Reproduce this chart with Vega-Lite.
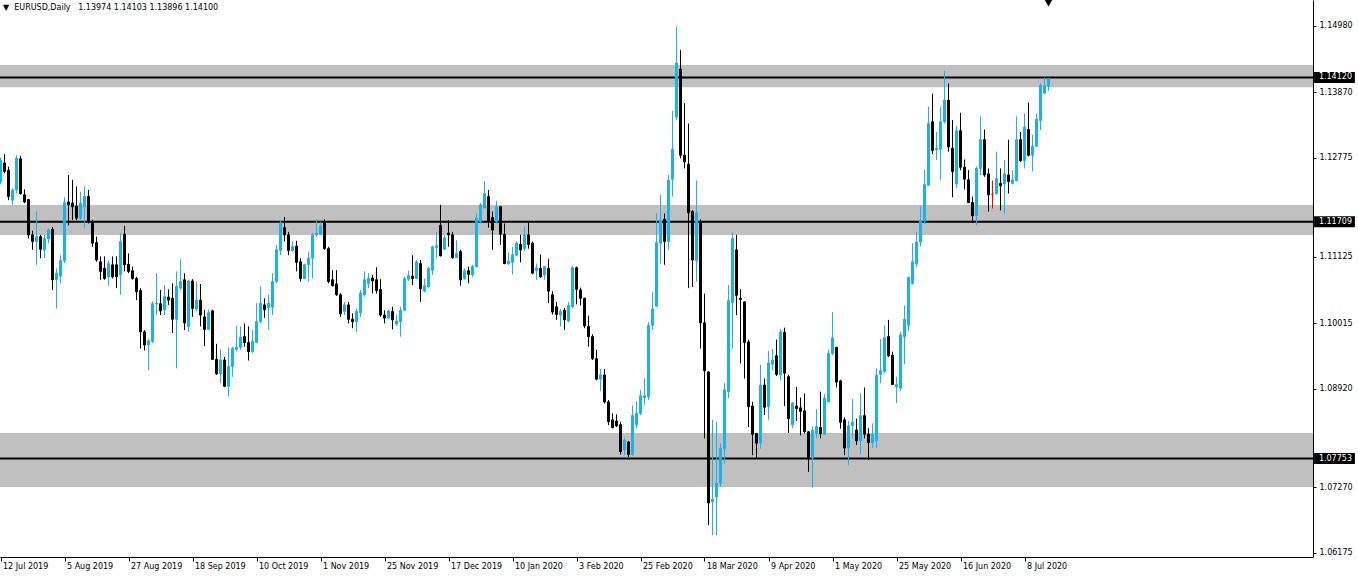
{
  "$schema": "https://vega.github.io/schema/vega-lite/v6.json",
  "width": 1313,
  "height": 557,
  "autosize": "none",
  "padding": {"left": 0, "top": 0, "right": 45, "bottom": 21},
  "background": "white",
  "config": {"view": {"stroke": null}, "font": "DejaVu Sans", "scale": {"continuousPadding": 0}},
  "datasets": {
    "header": [
      {"i": 0.625, "p": 1.1528, "txt": "▼\u00a0 EURUSD,Daily\u00a0\u00a0 1.13974 1.14103 1.13896 1.14100"}
    ],
    "zones": [
      {"lo": 1.13955, "hi": 1.14328, "lvl": 1.1412, "lab": "1.14120"},
      {"lo": 1.11487, "hi": 1.11989, "lvl": 1.11709, "lab": "1.11709"},
      {"lo": 1.07277, "hi": 1.08179, "lvl": 1.07753, "lab": "1.07753"}
    ],
    "candles": [
      {"i":0,"o":1.1238,"h":1.1278,"l":1.1234,"c":1.1273},
      {"i":1,"o":1.1269,"h":1.1284,"l":1.1252,"c":1.1255},
      {"i":2,"o":1.1257,"h":1.1263,"l":1.1207,"c":1.1213},
      {"i":3,"o":1.1207,"h":1.1227,"l":1.1199,"c":1.1224},
      {"i":4,"o":1.1224,"h":1.1282,"l":1.1218,"c":1.1277},
      {"i":5,"o":1.1276,"h":1.1281,"l":1.1216,"c":1.1218},
      {"i":6,"o":1.1216,"h":1.1225,"l":1.1202,"c":1.1204},
      {"i":7,"o":1.1208,"h":1.1209,"l":1.1143,"c":1.1149},
      {"i":8,"o":1.1149,"h":1.1156,"l":1.1124,"c":1.1138},
      {"i":9,"o":1.1138,"h":1.1188,"l":1.1099,"c":1.1146},
      {"i":10,"o":1.1146,"h":1.1149,"l":1.1110,"c":1.1125},
      {"i":11,"o":1.1124,"h":1.1149,"l":1.1110,"c":1.1143},
      {"i":12,"o":1.1142,"h":1.1160,"l":1.1135,"c":1.1157},
      {"i":13,"o":1.1158,"h":1.1162,"l":1.1057,"c":1.1074},
      {"i":14,"o":1.1074,"h":1.1093,"l":1.1026,"c":1.1085},
      {"i":15,"o":1.1080,"h":1.1115,"l":1.1068,"c":1.1106},
      {"i":16,"o":1.1106,"h":1.1212,"l":1.1102,"c":1.1203},
      {"i":17,"o":1.1204,"h":1.1249,"l":1.1165,"c":1.1199},
      {"i":18,"o":1.1202,"h":1.1241,"l":1.1174,"c":1.1196},
      {"i":19,"o":1.1197,"h":1.1230,"l":1.1174,"c":1.1177},
      {"i":20,"o":1.1177,"h":1.1221,"l":1.1174,"c":1.1202},
      {"i":21,"o":1.1196,"h":1.1230,"l":1.1160,"c":1.1213},
      {"i":22,"o":1.1213,"h":1.1224,"l":1.1168,"c":1.1171},
      {"i":23,"o":1.1171,"h":1.1174,"l":1.1129,"c":1.1135},
      {"i":24,"o":1.1136,"h":1.1146,"l":1.1104,"c":1.1107},
      {"i":25,"o":1.1104,"h":1.1113,"l":1.1074,"c":1.1088},
      {"i":26,"o":1.1093,"h":1.1113,"l":1.1074,"c":1.1076},
      {"i":27,"o":1.1079,"h":1.1106,"l":1.1064,"c":1.1101},
      {"i":28,"o":1.1099,"h":1.1113,"l":1.1076,"c":1.1079},
      {"i":29,"o":1.1099,"h":1.1113,"l":1.1060,"c":1.1079},
      {"i":30,"o":1.1082,"h":1.1152,"l":1.1049,"c":1.1138},
      {"i":31,"o":1.1150,"h":1.1164,"l":1.1088,"c":1.1099},
      {"i":32,"o":1.1100,"h":1.1118,"l":1.1085,"c":1.1088},
      {"i":33,"o":1.1089,"h":1.1096,"l":1.1074,"c":1.1076},
      {"i":34,"o":1.1076,"h":1.1079,"l":1.1040,"c":1.1054},
      {"i":35,"o":1.1056,"h":1.1060,"l":1.0959,"c":1.0987},
      {"i":36,"o":1.0987,"h":1.0990,"l":1.0956,"c":1.0965},
      {"i":37,"o":1.0965,"h":1.0976,"l":1.0923,"c":1.0972},
      {"i":38,"o":1.0971,"h":1.1038,"l":1.0968,"c":1.1034},
      {"i":39,"o":1.1034,"h":1.1085,"l":1.1015,"c":1.1035},
      {"i":40,"o":1.1034,"h":1.1057,"l":1.1015,"c":1.1022},
      {"i":41,"o":1.1024,"h":1.1065,"l":1.1015,"c":1.1046},
      {"i":42,"o":1.1045,"h":1.1058,"l":1.1032,"c":1.1040},
      {"i":43,"o":1.1043,"h":1.1068,"l":1.0985,"c":1.1008},
      {"i":44,"o":1.1008,"h":1.1088,"l":1.0926,"c":1.1063},
      {"i":45,"o":1.1060,"h":1.1108,"l":1.1057,"c":1.1071},
      {"i":46,"o":1.1074,"h":1.1085,"l":1.0990,"c":1.1002},
      {"i":47,"o":1.0996,"h":1.1074,"l":1.0987,"c":1.1072},
      {"i":48,"o":1.1072,"h":1.1075,"l":1.1012,"c":1.1026},
      {"i":49,"o":1.1025,"h":1.1071,"l":1.1021,"c":1.1040},
      {"i":50,"o":1.1040,"h":1.1067,"l":1.0996,"c":1.1015},
      {"i":51,"o":1.1012,"h":1.1024,"l":1.0963,"c":1.0991},
      {"i":52,"o":1.0991,"h":1.1024,"l":1.0990,"c":1.1019},
      {"i":53,"o":1.1022,"h":1.1024,"l":1.0940,"c":1.0941},
      {"i":54,"o":1.0941,"h":1.0967,"l":1.0915,"c":1.0917},
      {"i":55,"o":1.0917,"h":1.0958,"l":1.0901,"c":1.0940},
      {"i":56,"o":1.0940,"h":1.0945,"l":1.0895,"c":1.0896},
      {"i":57,"o":1.0896,"h":1.0961,"l":1.0879,"c":1.0929},
      {"i":58,"o":1.0929,"h":1.0962,"l":1.0912,"c":1.0959},
      {"i":59,"o":1.0958,"h":1.0997,"l":1.0954,"c":1.0961},
      {"i":60,"o":1.0961,"h":1.0996,"l":1.0957,"c":1.0978},
      {"i":61,"o":1.0979,"h":1.1001,"l":1.0962,"c":1.0969},
      {"i":62,"o":1.0969,"h":1.0996,"l":1.0939,"c":1.0954},
      {"i":63,"o":1.0954,"h":1.0990,"l":1.0952,"c":1.0971},
      {"i":64,"o":1.0969,"h":1.1035,"l":1.0968,"c":1.1004},
      {"i":65,"o":1.1004,"h":1.1063,"l":1.1001,"c":1.1035},
      {"i":66,"o":1.1032,"h":1.1043,"l":1.1010,"c":1.1024},
      {"i":67,"o":1.1027,"h":1.1049,"l":1.0990,"c":1.1035},
      {"i":68,"o":1.1028,"h":1.1085,"l":1.1015,"c":1.1071},
      {"i":69,"o":1.1071,"h":1.1132,"l":1.1068,"c":1.1124},
      {"i":70,"o":1.1123,"h":1.1174,"l":1.1115,"c":1.1169},
      {"i":71,"o":1.1161,"h":1.1179,"l":1.1138,"c":1.1149},
      {"i":72,"o":1.1149,"h":1.1154,"l":1.1115,"c":1.1123},
      {"i":73,"o":1.1123,"h":1.1138,"l":1.1121,"c":1.1129},
      {"i":74,"o":1.1130,"h":1.1139,"l":1.1088,"c":1.1103},
      {"i":75,"o":1.1104,"h":1.1110,"l":1.1071,"c":1.1076},
      {"i":76,"o":1.1076,"h":1.1101,"l":1.1075,"c":1.1099},
      {"i":77,"o":1.1099,"h":1.1121,"l":1.1071,"c":1.1110},
      {"i":78,"o":1.1110,"h":1.1152,"l":1.1076,"c":1.1149},
      {"i":79,"o":1.1149,"h":1.1175,"l":1.1146,"c":1.1152},
      {"i":80,"o":1.1150,"h":1.1171,"l":1.1149,"c":1.1164},
      {"i":81,"o":1.1169,"h":1.1175,"l":1.1124,"c":1.1126},
      {"i":82,"o":1.1126,"h":1.1129,"l":1.1068,"c":1.1071},
      {"i":83,"o":1.1074,"h":1.1090,"l":1.1063,"c":1.1064},
      {"i":84,"o":1.1067,"h":1.1090,"l":1.1047,"c":1.1049},
      {"i":85,"o":1.1049,"h":1.1052,"l":1.1012,"c":1.1017},
      {"i":86,"o":1.1021,"h":1.1037,"l":1.1015,"c":1.1032},
      {"i":87,"o":1.1032,"h":1.1037,"l":1.1001,"c":1.1008},
      {"i":88,"o":1.1008,"h":1.1018,"l":1.0993,"c":1.1004},
      {"i":89,"o":1.1004,"h":1.1026,"l":1.0987,"c":1.1021},
      {"i":90,"o":1.1019,"h":1.1057,"l":1.1012,"c":1.1052},
      {"i":91,"o":1.1049,"h":1.1088,"l":1.1046,"c":1.1074},
      {"i":92,"o":1.1068,"h":1.1085,"l":1.1060,"c":1.1076},
      {"i":93,"o":1.1077,"h":1.1082,"l":1.1051,"c":1.1072},
      {"i":94,"o":1.1074,"h":1.1095,"l":1.1051,"c":1.1056},
      {"i":95,"o":1.1058,"h":1.1075,"l":1.1012,"c":1.1015},
      {"i":96,"o":1.1015,"h":1.1023,"l":1.1001,"c":1.1010},
      {"i":97,"o":1.1010,"h":1.1023,"l":1.1008,"c":1.1022},
      {"i":98,"o":1.1021,"h":1.1029,"l":1.0991,"c":1.1007},
      {"i":99,"o":1.1000,"h":1.1016,"l":1.0997,"c":1.1005},
      {"i":100,"o":1.1004,"h":1.1029,"l":1.0979,"c":1.1023},
      {"i":101,"o":1.1023,"h":1.1079,"l":1.1022,"c":1.1076},
      {"i":102,"o":1.1075,"h":1.1089,"l":1.1072,"c":1.1081},
      {"i":103,"o":1.1080,"h":1.1115,"l":1.1065,"c":1.1076},
      {"i":104,"o":1.1076,"h":1.1107,"l":1.1075,"c":1.1104},
      {"i":105,"o":1.1101,"h":1.1107,"l":1.1037,"c":1.1059},
      {"i":106,"o":1.1055,"h":1.1076,"l":1.1053,"c":1.1064},
      {"i":107,"o":1.1062,"h":1.1096,"l":1.1061,"c":1.1093},
      {"i":108,"o":1.1090,"h":1.1131,"l":1.1082,"c":1.1129},
      {"i":109,"o":1.1128,"h":1.1154,"l":1.1110,"c":1.1131},
      {"i":110,"o":1.1165,"h":1.1199,"l":1.1113,"c":1.1114},
      {"i":111,"o":1.1125,"h":1.1149,"l":1.1124,"c":1.1144},
      {"i":112,"o":1.1152,"h":1.1174,"l":1.1129,"c":1.1149},
      {"i":113,"o":1.1149,"h":1.1154,"l":1.1109,"c":1.1111},
      {"i":114,"o":1.1111,"h":1.1140,"l":1.1110,"c":1.1118},
      {"i":115,"o":1.1121,"h":1.1124,"l":1.1064,"c":1.1074},
      {"i":116,"o":1.1076,"h":1.1093,"l":1.1074,"c":1.1089},
      {"i":117,"o":1.1089,"h":1.1096,"l":1.1068,"c":1.1083},
      {"i":118,"o":1.1082,"h":1.1099,"l":1.1079,"c":1.1096},
      {"i":119,"o":1.1096,"h":1.1185,"l":1.1094,"c":1.1177},
      {"i":120,"o":1.1171,"h":1.1202,"l":1.1168,"c":1.1199},
      {"i":121,"o":1.1194,"h":1.1239,"l":1.1193,"c":1.1218},
      {"i":122,"o":1.1213,"h":1.1224,"l":1.1161,"c":1.1171},
      {"i":123,"o":1.1178,"h":1.1188,"l":1.1124,"c":1.1157},
      {"i":124,"o":1.1171,"h":1.1206,"l":1.1168,"c":1.1196},
      {"i":125,"o":1.1196,"h":1.1197,"l":1.1132,"c":1.1150},
      {"i":126,"o":1.1150,"h":1.1168,"l":1.1100,"c":1.1101},
      {"i":127,"o":1.1101,"h":1.1120,"l":1.1099,"c":1.1105},
      {"i":128,"o":1.1103,"h":1.1129,"l":1.1083,"c":1.1116},
      {"i":129,"o":1.1115,"h":1.1138,"l":1.1114,"c":1.1135},
      {"i":130,"o":1.1133,"h":1.1149,"l":1.1103,"c":1.1124},
      {"i":131,"o":1.1126,"h":1.1163,"l":1.1122,"c":1.1149},
      {"i":132,"o":1.1149,"h":1.1170,"l":1.1126,"c":1.1133},
      {"i":133,"o":1.1135,"h":1.1138,"l":1.1083,"c":1.1085},
      {"i":134,"o":1.1089,"h":1.1101,"l":1.1074,"c":1.1094},
      {"i":135,"o":1.1093,"h":1.1116,"l":1.1077,"c":1.1079},
      {"i":136,"o":1.1082,"h":1.1097,"l":1.1074,"c":1.1096},
      {"i":137,"o":1.1093,"h":1.1109,"l":1.1035,"c":1.1055},
      {"i":138,"o":1.1049,"h":1.1055,"l":1.1016,"c":1.1020},
      {"i":139,"o":1.1029,"h":1.1037,"l":1.1007,"c":1.1016},
      {"i":140,"o":1.1015,"h":1.1025,"l":1.0996,"c":1.1021},
      {"i":141,"o":1.1023,"h":1.1027,"l":1.0990,"c":1.1007},
      {"i":142,"o":1.1005,"h":1.1037,"l":1.1003,"c":1.1031},
      {"i":143,"o":1.1029,"h":1.1097,"l":1.1027,"c":1.1094},
      {"i":144,"o":1.1094,"h":1.1096,"l":1.1033,"c":1.1058},
      {"i":145,"o":1.1057,"h":1.1061,"l":1.1031,"c":1.1043},
      {"i":146,"o":1.1043,"h":1.1044,"l":1.0993,"c":1.0997},
      {"i":147,"o":1.0996,"h":1.1014,"l":1.0962,"c":1.0979},
      {"i":148,"o":1.0979,"h":1.0983,"l":1.0940,"c":1.0942},
      {"i":149,"o":1.0942,"h":1.0957,"l":1.0906,"c":1.0908},
      {"i":150,"o":1.0908,"h":1.0925,"l":1.0888,"c":1.0915},
      {"i":151,"o":1.0915,"h":1.0925,"l":1.0867,"c":1.0870},
      {"i":152,"o":1.0870,"h":1.0873,"l":1.0831,"c":1.0837},
      {"i":153,"o":1.0840,"h":1.0851,"l":1.0826,"c":1.0827},
      {"i":154,"o":1.0838,"h":1.0849,"l":1.0828,"c":1.0830},
      {"i":155,"o":1.0832,"h":1.0836,"l":1.0782,"c":1.0787},
      {"i":156,"o":1.0790,"h":1.0810,"l":1.0781,"c":1.0806},
      {"i":157,"o":1.0803,"h":1.0804,"l":1.0778,"c":1.0782},
      {"i":158,"o":1.0782,"h":1.0864,"l":1.0780,"c":1.0847},
      {"i":159,"o":1.0832,"h":1.0871,"l":1.0826,"c":1.0851},
      {"i":160,"o":1.0851,"h":1.0890,"l":1.0848,"c":1.0880},
      {"i":161,"o":1.0877,"h":1.0909,"l":1.0865,"c":1.0880},
      {"i":162,"o":1.0879,"h":1.1003,"l":1.0873,"c":1.0998},
      {"i":163,"o":1.0998,"h":1.1053,"l":1.0990,"c":1.1025},
      {"i":164,"o":1.1030,"h":1.1185,"l":1.1028,"c":1.1136},
      {"i":165,"o":1.1135,"h":1.1216,"l":1.1101,"c":1.1174},
      {"i":166,"o":1.1175,"h":1.1185,"l":1.1099,"c":1.1138},
      {"i":167,"o":1.1138,"h":1.1249,"l":1.1124,"c":1.1240},
      {"i":168,"o":1.1242,"h":1.1356,"l":1.1213,"c":1.1292},
      {"i":169,"o":1.1346,"h":1.1497,"l":1.1341,"c":1.1436},
      {"i":170,"o":1.1426,"h":1.1458,"l":1.1277,"c":1.1282},
      {"i":171,"o":1.1282,"h":1.1369,"l":1.1260,"c":1.1271},
      {"i":172,"o":1.1267,"h":1.1335,"l":1.1060,"c":1.1186},
      {"i":173,"o":1.1188,"h":1.1190,"l":1.1062,"c":1.1107},
      {"i":174,"o":1.1106,"h":1.1240,"l":1.1071,"c":1.1186},
      {"i":175,"o":1.1171,"h":1.1175,"l":1.0959,"c":1.1002},
      {"i":176,"o":1.1002,"h":1.1051,"l":1.0809,"c":1.0922},
      {"i":177,"o":1.0920,"h":1.0921,"l":1.0664,"c":1.0701},
      {"i":178,"o":1.0703,"h":1.0840,"l":1.0647,"c":1.0707},
      {"i":179,"o":1.0711,"h":1.0837,"l":1.0647,"c":1.0734},
      {"i":180,"o":1.0734,"h":1.0801,"l":1.0728,"c":1.0792},
      {"i":181,"o":1.0792,"h":1.0901,"l":1.0767,"c":1.0890},
      {"i":182,"o":1.0887,"h":1.1065,"l":1.0876,"c":1.1039},
      {"i":183,"o":1.1036,"h":1.1153,"l":1.0959,"c":1.1143},
      {"i":184,"o":1.1124,"h":1.1149,"l":1.1015,"c":1.1048},
      {"i":185,"o":1.1043,"h":1.1058,"l":1.0934,"c":1.1041},
      {"i":186,"o":1.1037,"h":1.1038,"l":1.0909,"c":1.0969},
      {"i":187,"o":1.0970,"h":1.0974,"l":1.0828,"c":1.0862},
      {"i":188,"o":1.0863,"h":1.0870,"l":1.0781,"c":1.0816},
      {"i":189,"o":1.0817,"h":1.0818,"l":1.0776,"c":1.0801},
      {"i":190,"o":1.0801,"h":1.0932,"l":1.0792,"c":1.0898},
      {"i":191,"o":1.0898,"h":1.0909,"l":1.0848,"c":1.0861},
      {"i":192,"o":1.0862,"h":1.0955,"l":1.0840,"c":1.0935},
      {"i":193,"o":1.0933,"h":1.0958,"l":1.0923,"c":1.0940},
      {"i":194,"o":1.0947,"h":1.0974,"l":1.0913,"c":1.0916},
      {"i":195,"o":1.0915,"h":1.0991,"l":1.0906,"c":1.0987},
      {"i":196,"o":1.0986,"h":1.0994,"l":1.0863,"c":1.0918},
      {"i":197,"o":1.0912,"h":1.0915,"l":1.0818,"c":1.0842},
      {"i":198,"o":1.0832,"h":1.0870,"l":1.0826,"c":1.0868},
      {"i":199,"o":1.0863,"h":1.0895,"l":1.0838,"c":1.0859},
      {"i":200,"o":1.0860,"h":1.0877,"l":1.0814,"c":1.0854},
      {"i":201,"o":1.0855,"h":1.0884,"l":1.0817,"c":1.0820},
      {"i":202,"o":1.0820,"h":1.0821,"l":1.0753,"c":1.0776},
      {"i":203,"o":1.0776,"h":1.0829,"l":1.0726,"c":1.0823},
      {"i":204,"o":1.0817,"h":1.0858,"l":1.0809,"c":1.0829},
      {"i":205,"o":1.0827,"h":1.0887,"l":1.0809,"c":1.0817},
      {"i":206,"o":1.0816,"h":1.0883,"l":1.0815,"c":1.0876},
      {"i":207,"o":1.0870,"h":1.0957,"l":1.0869,"c":1.0951},
      {"i":208,"o":1.0951,"h":1.1020,"l":1.0948,"c":1.0977},
      {"i":209,"o":1.0961,"h":1.0962,"l":1.0894,"c":1.0903},
      {"i":210,"o":1.0905,"h":1.0907,"l":1.0825,"c":1.0836},
      {"i":211,"o":1.0840,"h":1.0844,"l":1.0781,"c":1.0793},
      {"i":212,"o":1.0793,"h":1.0838,"l":1.0764,"c":1.0830},
      {"i":213,"o":1.0830,"h":1.0875,"l":1.0809,"c":1.0836},
      {"i":214,"o":1.0823,"h":1.0842,"l":1.0798,"c":1.0805},
      {"i":215,"o":1.0805,"h":1.0884,"l":1.0782,"c":1.0847},
      {"i":216,"o":1.0847,"h":1.0894,"l":1.0809,"c":1.0816},
      {"i":217,"o":1.0816,"h":1.0826,"l":1.0773,"c":1.0802},
      {"i":218,"o":1.0802,"h":1.0834,"l":1.0793,"c":1.0816},
      {"i":219,"o":1.0805,"h":1.0926,"l":1.0793,"c":1.0914},
      {"i":220,"o":1.0916,"h":1.0975,"l":1.0901,"c":1.0922},
      {"i":221,"o":1.0921,"h":1.0998,"l":1.0918,"c":1.0977},
      {"i":222,"o":1.0979,"h":1.1007,"l":1.0945,"c":1.0947},
      {"i":223,"o":1.0948,"h":1.0954,"l":1.0898,"c":1.0899},
      {"i":224,"o":1.0895,"h":1.0912,"l":1.0868,"c":1.0899},
      {"i":225,"o":1.0893,"h":1.0987,"l":1.0888,"c":1.0982},
      {"i":226,"o":1.0979,"h":1.1031,"l":1.0933,"c":1.1008},
      {"i":227,"o":1.0998,"h":1.1079,"l":1.0988,"c":1.1078},
      {"i":228,"o":1.1068,"h":1.1135,"l":1.1066,"c":1.1104},
      {"i":229,"o":1.1101,"h":1.1154,"l":1.1095,"c":1.1137},
      {"i":230,"o":1.1137,"h":1.1197,"l":1.1130,"c":1.1172},
      {"i":231,"o":1.1172,"h":1.1258,"l":1.1167,"c":1.1233},
      {"i":232,"o":1.1232,"h":1.1363,"l":1.1231,"c":1.1335},
      {"i":233,"o":1.1338,"h":1.1385,"l":1.1284,"c":1.1290},
      {"i":234,"o":1.1291,"h":1.1321,"l":1.1274,"c":1.1294},
      {"i":235,"o":1.1292,"h":1.1363,"l":1.1241,"c":1.1338},
      {"i":236,"o":1.1338,"h":1.1423,"l":1.1335,"c":1.1374},
      {"i":237,"o":1.1374,"h":1.1402,"l":1.1288,"c":1.1296},
      {"i":238,"o":1.1294,"h":1.1341,"l":1.1212,"c":1.1255},
      {"i":239,"o":1.1234,"h":1.1331,"l":1.1227,"c":1.1323},
      {"i":240,"o":1.1323,"h":1.1353,"l":1.1257,"c":1.1262},
      {"i":241,"o":1.1262,"h":1.1275,"l":1.1225,"c":1.1242},
      {"i":242,"o":1.1241,"h":1.1257,"l":1.1202,"c":1.1203},
      {"i":243,"o":1.1203,"h":1.1213,"l":1.1169,"c":1.1181},
      {"i":244,"o":1.1181,"h":1.1263,"l":1.1165,"c":1.1260},
      {"i":245,"o":1.1260,"h":1.1347,"l":1.1249,"c":1.1308},
      {"i":246,"o":1.1308,"h":1.1325,"l":1.1246,"c":1.1249},
      {"i":247,"o":1.1251,"h":1.1260,"l":1.1188,"c":1.1216},
      {"i":248,"o":1.1217,"h":1.1240,"l":1.1193,"c":1.1217},
      {"i":249,"o":1.1218,"h":1.1288,"l":1.1216,"c":1.1243},
      {"i":250,"o":1.1235,"h":1.1260,"l":1.1190,"c":1.1231},
      {"i":251,"o":1.1234,"h":1.1274,"l":1.1184,"c":1.1251},
      {"i":252,"o":1.1249,"h":1.1308,"l":1.1218,"c":1.1238},
      {"i":253,"o":1.1235,"h":1.1257,"l":1.1234,"c":1.1241},
      {"i":254,"o":1.1240,"h":1.1347,"l":1.1238,"c":1.1308},
      {"i":255,"o":1.1308,"h":1.1321,"l":1.1271,"c":1.1273},
      {"i":256,"o":1.1273,"h":1.1352,"l":1.1260,"c":1.1329},
      {"i":257,"o":1.1325,"h":1.1370,"l":1.1280,"c":1.1282},
      {"i":258,"o":1.1282,"h":1.1316,"l":1.1255,"c":1.1297},
      {"i":259,"o":1.1297,"h":1.1352,"l":1.1296,"c":1.1342},
      {"i":260,"o":1.1340,"h":1.1402,"l":1.1324,"c":1.1399},
      {"i":261,"o":1.1386,"h":1.1412,"l":1.1384,"c":1.1398},
      {"i":262,"o":1.13974,"h":1.14103,"l":1.13896,"c":1.14100}
    ]
  },
  "layer": [
    {
      "data": {"name": "zones"},
      "mark": {"type": "rect", "color": "#C0C0C0"},
      "encoding": {
        "y": {"field": "hi", "type": "quantitative", "scale": {"domain": [1.06108, 1.15414], "nice": false, "zero": false, "padding": 0},
          "axis": {"orient": "right", "values": [1.1498, 1.14425, 1.1387, 1.1333, 1.12775, 1.1222, 1.11125, 1.1057, 1.10015, 1.09475, 1.0892, 1.08365, 1.0727, 1.06715, 1.06175],
            "format": ".5f", "labelAlign": "left", "labelBaseline": "middle", "tickSize": 3, "labelPadding": 3, "domainColor": "#000000", "tickColor": "#000000", "labelColor": "#000000", "labelFont": "DejaVu Sans", "labelFontSize": 8, "grid": false, "title": null, "labelBound": false, "labelOverlap": false, "labelFlush": false}},
        "y2": {"field": "lo"}
      }
    },
    {
      "data": {"name": "zones"},
      "mark": {"type": "rule", "color": "#000000", "strokeWidth": 2},
      "encoding": {
        "y": {"field": "lvl", "type": "quantitative", "scale": {"domain": [1.06108, 1.15414], "nice": false, "zero": false, "padding": 0}}
      }
    },
    {
      "data": {"name": "candles"},
      "mark": {"type": "rule", "strokeWidth": 1},
      "encoding": {
        "x": {"field": "i", "type": "quantitative", "scale": {"domain": [-0.125, 328.125], "nice": false, "zero": false, "padding": 0},
          "axis": {"values": [0, 16, 32, 48, 64, 80, 96, 112, 128, 144, 160, 176, 192, 208, 224, 240, 256],
            "labelExpr": "['12 Jul 2019','5 Aug 2019','27 Aug 2019','18 Sep 2019','10 Oct 2019','1 Nov 2019','25 Nov 2019','17 Dec 2019','10 Jan 2020','3 Feb 2020','25 Feb 2020','18 Mar 2020','9 Apr 2020','1 May 2020','25 May 2020','16 Jun 2020','8 Jul 2020'][round(datum.value/16)]",
            "labelAlign": "left", "labelBaseline": "top", "labelOffset": 2, "labelPadding": 1, "tickSize": 4, "domainColor": "#000000", "tickColor": "#000000", "labelColor": "#000000", "labelFont": "DejaVu Sans", "labelFontSize": 8, "grid": false, "title": null, "labelBound": false, "labelOverlap": false, "labelFlush": false}},
        "y": {"field": "l", "type": "quantitative", "scale": {"domain": [1.06108, 1.15414], "nice": false, "zero": false, "padding": 0}},
        "y2": {"field": "h"},
        "color": {"condition": [{"test": "datum.c > datum.o", "value": "#17B3EA"}, {"test": "datum.c == datum.o", "value": "#FF0000"}], "value": "#000000"}
      }
    },
    {
      "data": {"name": "candles"},
      "mark": {"type": "bar", "size": 2, "strokeWidth": 1, "orient": "vertical"},
      "encoding": {
        "x": {"field": "i", "type": "quantitative", "scale": {"domain": [-0.125, 328.125], "nice": false, "zero": false, "padding": 0}},
        "y": {"field": "o", "type": "quantitative", "scale": {"domain": [1.06108, 1.15414], "nice": false, "zero": false, "padding": 0}},
        "y2": {"field": "c"},
        "color": {"condition": [{"test": "datum.c > datum.o", "value": "#17B3EA"}, {"test": "datum.c == datum.o", "value": "#FF0000"}], "value": "#000000"},
        "stroke": {"condition": [{"test": "datum.c > datum.o", "value": "#17B3EA"}, {"test": "datum.c == datum.o", "value": "#FF0000"}], "value": "#000000"}
      }
    },
    {
      "data": {"name": "zones"},
      "mark": {"type": "bar", "orient": "horizontal", "size": 11, "color": "#000000"},
      "encoding": {
        "x": {"datum": 328.4, "type": "quantitative", "scale": {"domain": [-0.125, 328.125], "nice": false, "zero": false, "padding": 0}},
        "x2": {"datum": 338.6},
        "y": {"field": "lvl", "type": "quantitative", "scale": {"domain": [1.06108, 1.15414], "nice": false, "zero": false, "padding": 0}}
      }
    },
    {
      "data": {"name": "zones"},
      "mark": {"type": "text", "color": "#FFFFFF", "align": "left", "baseline": "middle", "font": "DejaVu Sans", "fontSize": 8},
      "encoding": {
        "x": {"datum": 329.6, "type": "quantitative", "scale": {"domain": [-0.125, 328.125], "nice": false, "zero": false, "padding": 0}},
        "y": {"field": "lvl", "type": "quantitative", "scale": {"domain": [1.06108, 1.15414], "nice": false, "zero": false, "padding": 0}},
        "text": {"field": "lab"}
      }
    },
    {
      "data": {"name": "header"},
      "mark": {"type": "text", "color": "#000000", "align": "left", "baseline": "middle", "font": "DejaVu Sans", "fontSize": 8},
      "encoding": {
        "x": {"field": "i", "type": "quantitative", "scale": {"domain": [-0.125, 328.125], "nice": false, "zero": false, "padding": 0}},
        "y": {"field": "p", "type": "quantitative", "scale": {"domain": [1.06108, 1.15414], "nice": false, "zero": false, "padding": 0}},
        "text": {"field": "txt"}
      }
    },
    {
      "data": {"values": [{"i": 262, "p": 1.15395}]},
      "mark": {"type": "point", "shape": "triangle-down", "filled": true, "color": "#000000", "size": 150, "opacity": 1},
      "encoding": {
        "x": {"field": "i", "type": "quantitative", "scale": {"domain": [-0.125, 328.125], "nice": false, "zero": false, "padding": 0}},
        "y": {"field": "p", "type": "quantitative", "scale": {"domain": [1.06108, 1.15414], "nice": false, "zero": false, "padding": 0}}
      }
    }
  ]
}
